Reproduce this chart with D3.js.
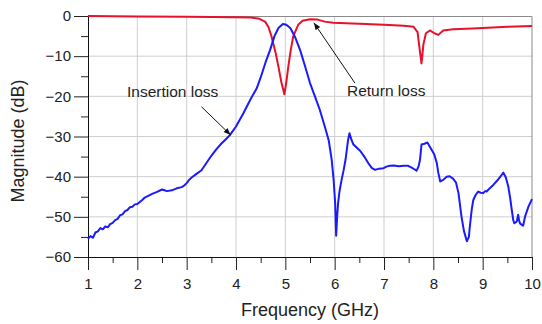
<!DOCTYPE html>
<html>
<head>
<meta charset="utf-8">
<script src="https://cdn.jsdelivr.net/npm/d3@7"></script>
<style>
  html, body { margin: 0; padding: 0; background: #fff; }
  svg { display: block; font-family: "Liberation Sans", Arial, sans-serif; }
</style>
</head>
<body>
<svg id="chart" width="542" height="324"></svg>
<script>
// return loss (red) — GHz / dB
const rlFreq = [1, 2, 3, 3.5, 4, 4.3, 4.45, 4.59, 4.66, 4.72, 4.8, 4.86, 4.92, 4.98, 5.02, 5.06, 5.11, 5.16, 5.26, 5.35, 5.5, 5.65, 5.8, 5.97, 6.5, 7.0, 7.4, 7.6, 7.68, 7.72, 7.76, 7.8, 7.85, 7.93, 8.02, 8.1, 8.2, 8.4, 8.8, 9.5, 10]
const rlVals = [0, -0.1, -0.2, -0.25, -0.3, -0.4, -0.6, -1.4, -2.8, -5.1, -9, -12.6, -16.5, -19.5, -16.5, -12.6, -8.5, -5.1, -2.2, -1.2, -0.8, -0.9, -1.4, -1.7, -1.9, -2.2, -2.4, -2.7, -4, -8, -11.8, -7, -4.3, -3.6, -4.3, -4.7, -3.6, -3.3, -3.1, -2.7, -2.5]

// insertion loss (blue)
const ilFreq = [1.0, 1.05, 1.1, 1.15, 1.2, 1.25, 1.3, 1.35, 1.4, 1.45, 1.5, 1.55, 1.6, 1.65, 1.7, 1.75, 1.8, 1.85, 1.9, 1.95, 2.0, 2.05, 2.1, 2.15, 2.2, 2.3, 2.4, 2.5, 2.55, 2.6, 2.7, 2.8, 2.9, 2.95, 3.0, 3.05, 3.1, 3.2, 3.3, 3.4, 3.5, 3.6, 3.7, 3.8, 3.88, 4.0, 4.15, 4.3, 4.42, 4.5, 4.6, 4.69, 4.78, 4.86, 4.95, 5.02, 5.1, 5.2, 5.3, 5.4, 5.5, 5.6, 5.7, 5.8, 5.88, 5.94, 5.98, 6.01, 6.03, 6.05, 6.07, 6.1, 6.14, 6.18, 6.22, 6.27, 6.3, 6.34, 6.38, 6.45, 6.52, 6.6, 6.68, 6.75, 6.82, 6.9, 6.99, 7.05, 7.12, 7.2, 7.3, 7.4, 7.49, 7.58, 7.66, 7.7, 7.73, 7.76, 7.82, 7.88, 7.95, 8.02, 8.07, 8.1, 8.14, 8.2, 8.27, 8.33, 8.4, 8.46, 8.51, 8.57, 8.62, 8.68, 8.72, 8.74, 8.78, 8.81, 8.86, 8.91, 8.96, 9.01, 9.05, 9.08, 9.15, 9.22, 9.3, 9.37, 9.42, 9.47, 9.52, 9.56, 9.59, 9.62, 9.64, 9.69, 9.72, 9.74, 9.76, 9.82, 9.86, 9.93, 10]
const ilVals = [-55.5, -54.8, -55.2, -53.9, -53.6, -52.8, -53.1, -52.4, -52.6, -51.8, -51.5, -50.8, -50.5, -49.6, -49.4, -48.6, -48.3, -47.6, -47.5, -46.9, -46.8, -46.3, -45.8, -45.2, -44.9, -44.3, -43.8, -43.2, -43.4, -43.6, -43.4, -42.9, -42.6, -42.2, -41.6, -40.8, -40.2, -39.3, -38.4, -36.6, -34.8, -33.2, -31.8, -30.6, -29.6, -27.5, -24.2, -20.6, -18, -15.3, -11.5, -8.5, -5, -3.0, -2.0, -2.2, -3.0, -5.3, -8.5, -12.5, -16.7, -20.0, -23.4, -27.5, -31, -35.8, -41, -46.6, -54.7, -50, -46.5, -43.5, -40.8, -38.5, -35.8, -31, -29.2, -30.8, -32, -32.8, -33.6, -35, -36.6, -37.8, -38.3, -38.0, -37.9, -37.5, -37.3, -37.2, -37.4, -37.3, -37.3, -37.9, -38.5, -37.5, -35.8, -32.0, -31.8, -31.5, -33.0, -34.5, -36.6, -39.0, -41.2, -40.8, -40.0, -39.9, -40.5, -41.5, -44.1, -49.9, -53.5, -56.1, -55, -52.4, -48, -45.8, -44.5, -43.7, -44.0, -44.1, -43.6, -43.7, -42.8, -42.0, -40.9, -39.8, -39.0, -40.2, -42.5, -45.5, -48.3, -50.8, -51.6, -51.2, -49.5, -51.0, -51.7, -52.2, -49.9, -47.4, -45.6]

const xTicks = [1, 2, 3, 4, 5, 6, 7, 8, 9, 10]
const yTicks = [0, -10, -20, -30, -40, -50, -60]

// annotations: label anchor and arrow (from -> to), in data units
const notes = [
  { text: 'Insertion loss', tx: 1.79, ty: -20.1, x1: 3.3, y1: -22.6, x2: 3.89, y2: -29.6 },
  { text: 'Return loss', tx: 6.25, ty: -19.9, x1: 6.41, y1: -16.7, x2: 5.58, y2: -1.7 }
]

const W = 542, H = 324
const m = { top: 16, right: 10, bottom: 67, left: 88 }
const iw = W - m.left - m.right
const ih = H - m.top - m.bottom

const svg = d3.select('#chart')
svg.append('rect').attr('width', W).attr('height', H).attr('fill', '#fff')

svg.append('defs').append('marker')
  .attr('id', 'arr')
  .attr('viewBox', '0 0 10 10')
  .attr('refX', 10).attr('refY', 5)
  .attr('markerWidth', 7).attr('markerHeight', 7)
  .attr('orient', 'auto')
  .append('path')
  .attr('d', 'M0,1 L10,5 L0,9 z')
  .attr('fill', '#111')

const g = svg.append('g').attr('transform', `translate(${m.left},${m.top})`)

const x = d3.scaleLinear().domain([1, 10]).range([0, iw])
const y = d3.scaleLinear().domain([-60, 0]).range([ih, 0])

// grid
g.append('g').selectAll('line')
  .data(xTicks.slice(1, -1))
  .join('line')
  .attr('x1', d => x(d)).attr('x2', d => x(d))
  .attr('y1', 0).attr('y2', ih)
  .attr('stroke', '#cfcfcf')
g.append('g').selectAll('line')
  .data(yTicks.slice(1, -1))
  .join('line')
  .attr('y1', d => y(d)).attr('y2', d => y(d))
  .attr('x1', 0).attr('x2', iw)
  .attr('stroke', '#cfcfcf')

// top / right frame
g.append('path')
  .attr('d', `M0,0.5 H${iw} V${ih}`)
  .attr('fill', 'none')
  .attr('stroke', '#8a8a8a')

// minor ticks
g.append('g')
  .attr('transform', `translate(0,${ih})`)
  .call(d3.axisBottom(x).tickValues(d3.range(1.5, 10, 1)).tickSize(6).tickFormat(''))
  .call(a => a.select('.domain').remove())
g.append('g')
  .call(d3.axisLeft(y).tickValues(d3.range(-55, 0, 10)).tickSize(7).tickFormat(''))
  .call(a => a.select('.domain').remove())

// major axes
const xAxis = g.append('g')
  .attr('transform', `translate(0,${ih})`)
  .call(d3.axisBottom(x).tickValues(xTicks).tickSize(13).tickPadding(8).tickSizeOuter(0))
const yAxis = g.append('g')
  .call(d3.axisLeft(y).tickValues(yTicks).tickSize(14).tickPadding(3).tickSizeOuter(0))

for (const a of [xAxis, yAxis]) {
  a.selectAll('text').attr('font-size', 15).attr('fill', '#222').attr('font-family', null)
  a.select('.domain').attr('stroke', '#111')
}
g.selectAll('.tick line').attr('stroke', '#222')

// curves
const line = d3.line().x(d => x(d[0])).y(d => y(d[1]))

g.append('path')
  .datum(d3.zip(rlFreq, rlVals))
  .attr('d', line)
  .attr('fill', 'none')
  .attr('stroke', '#e8102a')
  .attr('stroke-width', 2)
  .attr('stroke-linejoin', 'round')

g.append('path')
  .datum(d3.zip(ilFreq, ilVals))
  .attr('d', line)
  .attr('fill', 'none')
  .attr('stroke', '#1a1aff')
  .attr('stroke-width', 2)
  .attr('stroke-linejoin', 'round')

// annotations
for (const n of notes) {
  g.append('text')
    .attr('x', x(n.tx)).attr('y', y(n.ty))
    .attr('font-size', 15.5).attr('fill', '#222')
    .text(n.text)
  g.append('line')
    .attr('x1', x(n.x1)).attr('y1', y(n.y1))
    .attr('x2', x(n.x2)).attr('y2', y(n.y2))
    .attr('stroke', '#111')
    .attr('stroke-width', 1)
    .attr('marker-end', 'url(#arr)')
}

// axis titles
svg.append('text')
  .attr('x', m.left + iw / 2).attr('y', 316)
  .attr('text-anchor', 'middle')
  .attr('font-size', 18).attr('fill', '#222')
  .text('Frequency (GHz)')
svg.append('text')
  .attr('transform', `translate(24,141) rotate(-90)`)
  .attr('text-anchor', 'middle')
  .attr('font-size', 18).attr('fill', '#222')
  .text('Magnitude (dB)')
</script>
</body>
</html>
